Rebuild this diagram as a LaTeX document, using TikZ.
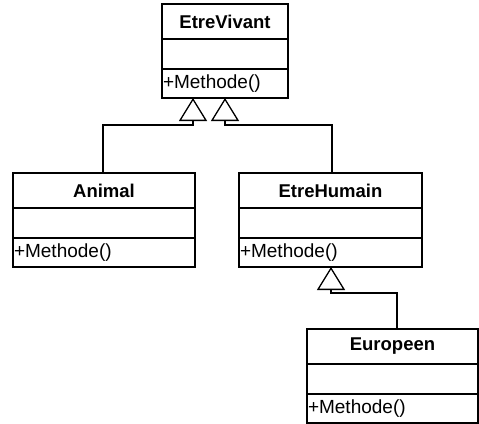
\documentclass[tikz,border=0pt]{standalone}
\usepackage{fontspec}
\setmainfont{Liberation Sans}
\usetikzlibrary{arrows.meta}
\tikzset{
  clbase/.style={draw=black, line width=1.3pt, anchor=north west, inner xsep=1pt, inner ysep=0pt, outer sep=0pt, text width=#1},
  cltitle/.style={clbase=#1, minimum height=35pt, align=center, font=\bfseries\fontsize{18.5}{20}\selectfont},
  clattr/.style={clbase=#1, minimum height=30pt},
  clmeth/.style={clbase=#1, minimum height=29pt, align=left, font=\fontsize{19}{21}\selectfont},
  gen/.style={draw=black, line width=1.3pt, -{Triangle[open, length=23pt, width=28pt, line width=1.3pt]}}
}
\begin{document}
\begin{tikzpicture}[x=1pt,y=-1pt]
\useasboundingbox (0,0) rectangle (479,423);
% EtreVivant
\node[cltitle=124pt] (ev-t) at (162,4) {EtreVivant};
\node[clattr=124pt] (ev-a) at (ev-t.south west) {};
\node[clmeth=124pt] (ev-m) at (ev-a.south west) {+Methode()};
% Animal
\node[cltitle=180pt] (an-t) at (13,173) {Animal};
\node[clattr=180pt] (an-a) at (an-t.south west) {};
\node[clmeth=180pt] (an-m) at (an-a.south west) {+Methode()};
% EtreHumain
\node[cltitle=181pt] (eh-t) at (239,173) {EtreHumain};
\node[clattr=181pt] (eh-a) at (eh-t.south west) {};
\node[clmeth=181pt] (eh-m) at (eh-a.south west) {+Methode()};
% Europeen
\node[cltitle=169pt] (eu-t) at (307,329) {Europeen};
\node[clattr=169pt] (eu-a) at (eu-t.south west) {};
\node[clmeth=169pt] (eu-m) at (eu-a.south west) {+Methode()};
% generalisations
\draw[gen] ([xshift=90pt]an-t.north west) -- ++(0,-48) -| ([xshift=31pt]ev-m.south west);
\draw[gen] ([xshift=93pt]eh-t.north west) -- ++(0,-48) -| ([xshift=63pt]ev-m.south west);
\draw[gen] ([xshift=90pt]eu-t.north west) -- ++(0,-36) -| ([xshift=92pt]eh-m.south west);
\end{tikzpicture}
\end{document}
